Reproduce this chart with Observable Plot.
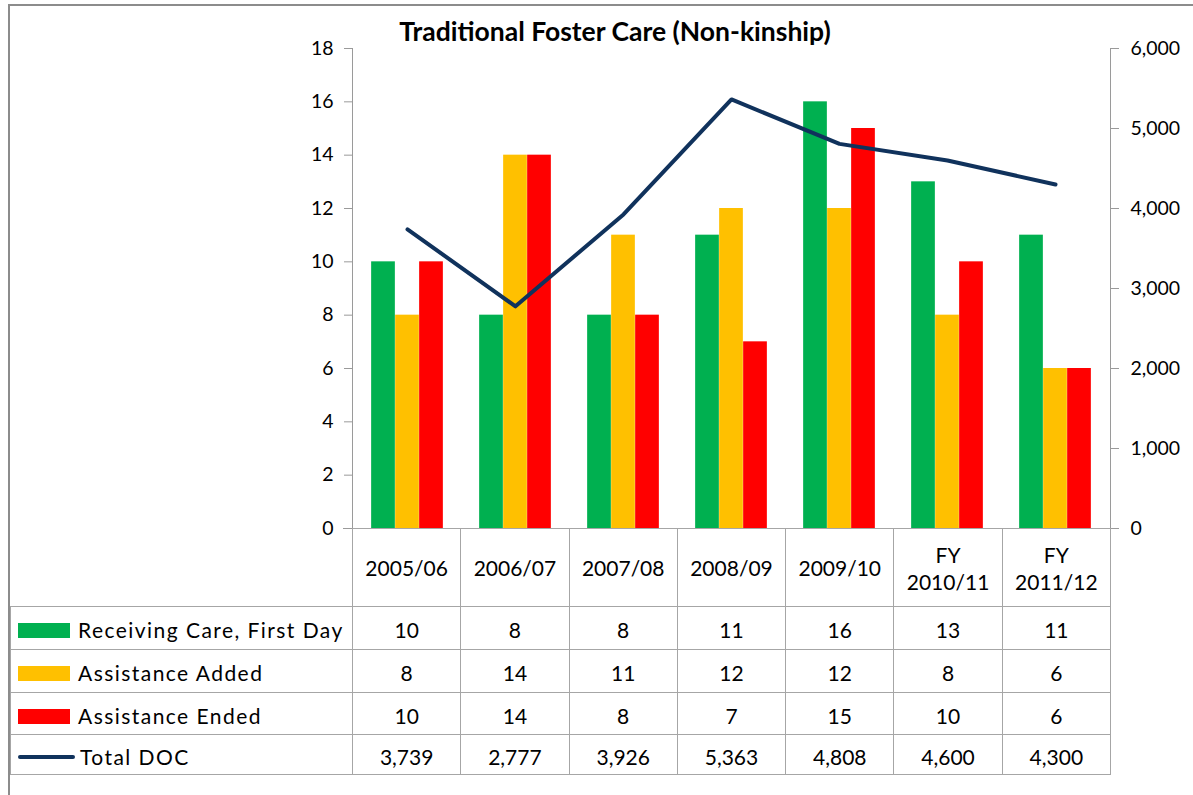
<!DOCTYPE html>
<html>
<head>
<meta charset="utf-8">
<script src="https://cdn.jsdelivr.net/npm/d3@7"></script>
<script src="https://cdn.jsdelivr.net/npm/@observablehq/plot@0.6"></script>
<style>
  html, body { margin: 0; padding: 0; background: #fff; overflow: hidden; }
  body { font-family: Lato, "Open Sans", sans-serif; color: #000; }
  #wrap { position: relative; width: 1193px; height: 795px; overflow: hidden; }
  #border { position: absolute; left: 8px; top: 4px; width: 1300px; height: 900px;
            border-left: 2px solid #8c8c8c; border-top: 2px solid #8c8c8c; }
  #title { position: absolute; left: 315px; width: 600px; top: 15px; text-align: center;
           font-weight: 700; font-size: 26.5px; }
  #chart { position: absolute; left: 0; top: 0; }
  #tbl { position: absolute; left: 10px; top: 528px; border-collapse: collapse; table-layout: fixed; }
  #tbl td { border: 1px solid #a6a6a6; padding: 0; text-align: center; font-size: 21px; line-height: 1.25; }
  #tbl td.blank { border-top: none; border-left: none; }
  #tbl tr.hdr td { height: 75px; padding-top: 2px; }
  #tbl td.leg { text-align: left; }
  .legcell { display: flex; align-items: center; padding-left: 7px; padding-top: 5px; }
  .sw { width: 52px; height: 15px; margin-right: 8px; flex: none; }
  .swl { width: 57px; height: 4px; border-radius: 2px; margin-right: 5px; flex: none; }
  .lt { letter-spacing: 1.45px; font-size: 21px; white-space: nowrap; }
  .num { padding-top: 5px !important; }
</style>
</head>
<body>
<div id="wrap">
  <div id="border"></div>
  <div id="chart"></div>
  <div id="title">Traditional Foster Care (Non-kinship)</div>
  <table id="tbl"></table>
</div>
<script>
// ---- data ----
const years = ["2005/06", "2006/07", "2007/08", "2008/09", "2009/10", "FY 2010/11", "FY 2011/12"];
const yearLines = [["2005/06"], ["2006/07"], ["2007/08"], ["2008/09"], ["2009/10"], ["FY", "2010/11"], ["FY", "2011/12"]];
const receivingCare = [10, 8, 8, 11, 16, 13, 11];
const assistanceAdded = [8, 14, 11, 12, 12, 8, 6];
const assistanceEnded = [10, 14, 8, 7, 15, 10, 6];
const totalDOC = [3739, 2777, 3926, 5363, 4808, 4600, 4300];
const seriesNames = ["Receiving Care, First Day", "Assistance Added", "Assistance Ended", "Total DOC"];
const colors = ["#00B050", "#FFC000", "#FF0000", "#10325c"];
const leftTicks = [0, 2, 4, 6, 8, 10, 12, 14, 16, 18];
const rightTicks = [0, 1000, 2000, 3000, 4000, 5000, 6000];
const leftMax = 18, rightMax = 6000;
const ratio = leftMax / rightMax;

const rows = years.map((y, i) => ({
  year: y, rc: receivingCare[i], aa: assistanceAdded[i], ae: assistanceEnded[i], doc: totalDOC[i], docScaled: totalDOC[i] * ratio
}));

const W = 1193, mL = 352, mR = 83;
const bw = (W - mL - mR) / years.length;
const barW = 24, gap = (bw - 3 * barW) / 2;
const fmt = d3.format(",");

const chart = Plot.plot({
  width: W,
  height: 540,
  marginLeft: mL,
  marginRight: mR,
  marginTop: 48,
  marginBottom: 12,
  style: { fontFamily: "Lato, 'Open Sans', sans-serif", fontSize: "19.5px", color: "#000", background: "transparent" },
  x: { type: "band", domain: years, padding: 0, axis: null },
  y: { domain: [0, leftMax], axis: null },
  marks: [
    Plot.barY(rows, { x: "year", y: "rc", fill: colors[0], insetLeft: gap, insetRight: bw - gap - barW }),
    Plot.barY(rows, { x: "year", y: "aa", fill: colors[1], insetLeft: gap + barW, insetRight: bw - gap - 2 * barW }),
    Plot.barY(rows, { x: "year", y: "ae", fill: colors[2], insetLeft: gap + 2 * barW, insetRight: gap }),
    Plot.frame({ anchor: "left", stroke: "#9a9a9a" }),
    Plot.frame({ anchor: "right", stroke: "#9a9a9a" }),
    Plot.axisY(leftTicks, { anchor: "left", tickSize: 8, tickPadding: 11, stroke: "#9a9a9a", fill: "#000", label: null }),
    Plot.axisY(rightTicks.map(v => v * ratio), { anchor: "right", tickSize: 8, tickPadding: 12, stroke: "#9a9a9a", fill: "#000", label: null,
      tickFormat: d => fmt(Math.round(d / ratio)) }),
    Plot.ruleY([0], { stroke: "#9a9a9a", insetLeft: -9, insetRight: -8 }),
    Plot.line(rows, { x: "year", y: "docScaled", stroke: colors[3], strokeWidth: 4, strokeLinejoin: "round", strokeLinecap: "round" })
  ]
});
document.getElementById("chart").appendChild(chart);

// ---- data table ----
const tbl = document.getElementById("tbl");
const colgroup = document.createElement("colgroup");
const c0 = document.createElement("col"); c0.style.width = (mL - 10) + "px"; colgroup.appendChild(c0);
years.forEach(() => { const c = document.createElement("col"); c.style.width = bw + "px"; colgroup.appendChild(c); });
tbl.appendChild(colgroup);
tbl.style.width = (mL - 10 + bw * years.length) + "px";

const hdr = document.createElement("tr"); hdr.className = "hdr";
const blank = document.createElement("td"); blank.className = "blank"; hdr.appendChild(blank);
yearLines.forEach(lines => { const td = document.createElement("td"); td.innerHTML = lines.join("<br>"); hdr.appendChild(td); });
tbl.appendChild(hdr);

const seriesVals = [receivingCare, assistanceAdded, assistanceEnded, totalDOC];
const rowH = [43, 43, 42, 40];
seriesVals.forEach((vals, si) => {
  const tr = document.createElement("tr");
  const td0 = document.createElement("td"); td0.className = "leg";
  td0.style.height = (rowH[si] - 1) + "px";
  const cell = document.createElement("div"); cell.className = "legcell";
  const sw = document.createElement("div");
  if (si < 3) { sw.className = "sw"; } else { sw.className = "swl"; }
  sw.style.background = colors[si];
  const lt = document.createElement("span"); lt.className = "lt"; lt.textContent = seriesNames[si];
  cell.appendChild(sw); cell.appendChild(lt); td0.appendChild(cell); tr.appendChild(td0);
  vals.forEach(v => { const td = document.createElement("td"); td.className = "num"; td.textContent = fmt(v); tr.appendChild(td); });
  tbl.appendChild(tr);
});
</script>
</body>
</html>
